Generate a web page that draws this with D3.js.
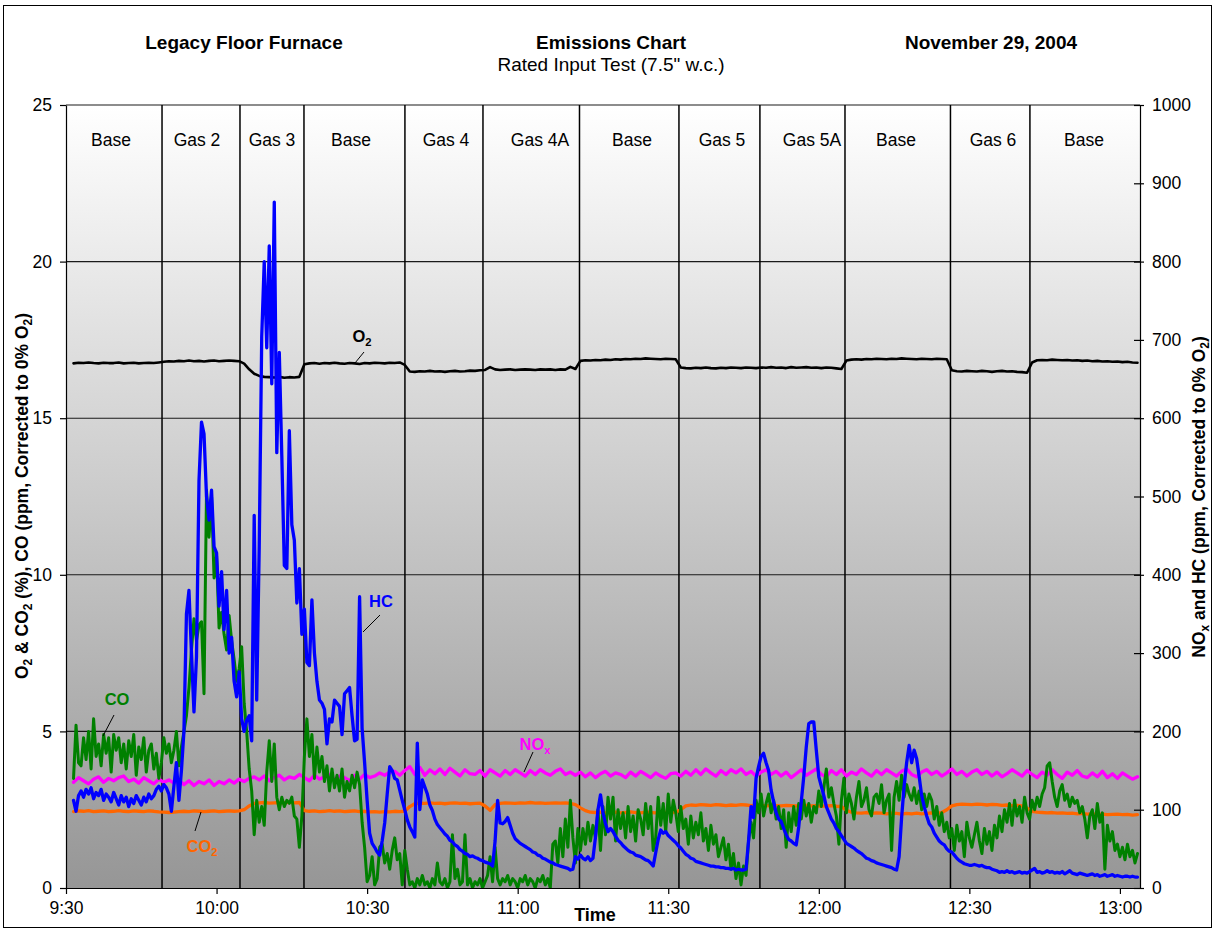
<!DOCTYPE html>
<html>
<head>
<meta charset="utf-8">
<script src="https://cdn.jsdelivr.net/npm/d3@7"></script>
<style>
  body { margin: 0; background: #fff; }
  svg text { font-family: "Liberation Sans", Arial, Helvetica, sans-serif; }
</style>
</head>
<body>
<svg id="chart" width="1215" height="930"></svg>
<script>
// ---- Test segments (start clock times) and their names ----
const segmentNames = ["Base", "Gas 2", "Gas 3", "Base", "Gas 4", "Gas 4A", "Base",
                      "Gas 5", "Gas 5A", "Base", "Gas 6", "Base"];
const segmentBounds = ["9:30:00", "9:49:08", "10:04:40", "10:17:25", "10:37:32", "10:53:05",
                       "11:12:19", "11:32:08", "11:48:16", "12:05:13", "12:26:14", "12:42:04", "13:04:00"];

// ---- Axis ticks ----
const timeTicks = ["9:30", "10:00", "10:30", "11:00", "11:30", "12:00", "12:30", "13:00"];
const leftTicks = [0, 5, 10, 15, 20, 25];
const rightTicks = [0, 100, 200, 300, 400, 500, 600, 700, 800, 900, 1000];

// ---- Sampling ----
const fastStart = "9:31:30";   // HC and CO logged every 30 s
const fastStepSec = 30;
const slowStart = "9:31:30";   // O2, CO2, NOx logged every 60 s
const slowStepSec = 60;

// HC, ppm corrected to 0% O2 (right axis)
const hcPpm = [
  112,98,118,124,116,126,120,128,114,122,118,126,112,120,116,110,122,114,106,118,
  110,116,104,114,108,118,112,106,116,110,120,114,118,126,130,124,132,128,120,98,
  130,160,112,150,200,350,380,300,225,295,520,595,580,500,470,508,436,428,360,404,
  330,380,300,320,264,244,276,216,200,214,220,188,476,240,436,704,800,690,820,644,
  876,556,684,552,412,408,584,464,444,364,408,324,356,288,284,368,300,264,240,236,
  228,184,216,212,240,236,232,196,248,252,256,220,188,190,372,204,160,112,70,57,
  52,46,42,60,83,120,155,150,140,138,125,112,100,87,78,72,65,185,100,138,
  129,120,106,99,88,81,77,73,69,66,61,59,55,53,49,47,44,43,40,41,
  39,38,36,35,33,32,31,28,60,112,83,82,85,90,80,70,63,60,57,55,
  53,51,49,46,45,42,41,38,37,35,33,32,30,29,28,27,26,25,23,24,
  40,37,42,38,36,40,35,38,65,100,119,96,82,72,76,72,66,61,58,54,
  51,48,46,45,42,41,40,38,36,35,32,28,45,62,74,70,72,67,64,61,
  58,54,51,47,43,41,38,37,34,33,32,31,30,29,28,28,27,27,26,26,
  25,25,24,25,23,24,23,23,24,60,104,90,140,155,168,172,160,150,125,110,
  96,88,85,76,68,62,60,57,55,78,110,142,180,210,212,212,176,142,130,118,
  104,96,88,83,76,72,67,62,57,55,53,51,48,46,44,41,38,37,35,34,
  32,31,30,29,28,27,26,24,23,40,90,130,160,182,160,176,165,142,118,104,
  92,82,78,70,65,60,57,55,50,47,46,42,38,35,33,31,30,29,29,30,
  29,28,29,27,26,26,24,23,22,20,21,20,22,20,21,19,20,21,19,20,
  19,21,23,25,20,21,19,20,22,20,21,19,20,19,21,18,20,22,19,18,
  17,19,18,17,16,17,18,16,17,15,16,17,15,16,17,15,16,15,14,15,
  15,14,15,14,14
];

// CO, ppm corrected to 0% O2 (left axis)
const coPpm = [
  3.5,5.2,4.0,3.9,4.8,4.1,5.0,3.8,5.4,4.2,4.6,3.9,4.9,4.3,4.8,3.7,4.9,4.4,4.8,4.0,
  4.6,3.8,4.7,4.2,4.9,3.6,4.5,4.1,4.8,3.7,4.4,4.6,3.8,4.3,3.5,4.0,4.8,4.3,4.6,4.0,
  4.4,5.0,3.9,4.5,5.0,5.5,6.4,7.6,8.6,7.9,8.4,8.5,6.2,12.7,11.2,12.5,9.9,10.6,8.3,8.8,
  8.1,7.6,8.7,7.9,7.3,6.6,7.0,7.7,5.9,5.0,3.8,3.1,1.7,2.8,2.1,2.6,2.0,3.7,4.7,3.4,
  4.6,2.9,2.5,2.9,2.6,2.8,2.7,2.9,2.3,2.2,1.3,2.3,4.2,5.4,4.2,4.9,3.5,4.5,3.7,4.2,
  3.4,3.9,3.1,3.8,3.2,3.6,3.1,3.8,2.9,3.4,3.1,3.6,3.2,3.7,3.3,2.1,1.3,0.2,0.4,1.0,
  0.1,0.3,1.3,1.4,0.8,1.1,0.6,1.2,1.6,0.9,1.1,0.1,1.2,0.6,0.1,0.2,0.0,0.3,0.1,0.4,
  0.1,0.2,0.0,0.3,0.1,0.8,0.2,0.1,0.3,0.0,0.2,1.7,0.3,0.6,0.1,0.2,1.7,0.1,0.3,0.0,
  0.2,0.1,0.3,0.0,0.2,0.4,1.0,0.2,1.3,0.3,0.1,0.3,0.2,0.4,0.1,0.3,0.2,0.0,0.3,0.2,
  0.4,0.1,0.3,0.2,0.0,0.3,0.2,0.4,0.1,0.3,0.0,1.4,1.5,0.8,1.9,1.0,2.2,1.3,2.8,1.6,
  0.8,1.9,1.2,1.9,1.4,2.1,1.5,2.0,1.6,2.5,1.2,2.6,1.7,2.9,2.2,2.9,1.5,2.5,1.9,2.4,
  1.6,2.6,1.8,2.3,1.5,2.5,2.2,1.7,2.7,1.9,2.6,1.2,1.6,2.9,2.0,2.7,1.8,3.0,2.1,2.8,
  2.4,1.8,2.6,1.9,2.2,1.4,2.3,1.6,2.1,1.7,2.4,1.5,1.9,1.2,2.0,1.4,1.7,1.0,1.3,1.6,
  0.9,1.4,0.6,1.1,0.3,0.8,0.1,0.7,0.4,1.5,2.1,1.6,2.8,2.4,3.0,2.3,2.7,3.0,2.4,2.8,
  2.2,2.6,1.9,2.5,1.3,2.4,1.8,2.6,2.0,2.7,2.2,2.8,2.3,2.7,2.1,2.6,2.4,3.1,2.6,3.2,
  3.8,2.9,3.2,2.7,2.3,1.4,2.8,3.5,2.4,3.0,2.7,2.2,2.9,3.4,2.6,2.8,3.2,2.5,2.3,2.9,
  3.0,2.7,3.3,2.4,2.8,3.0,1.2,2.9,3.4,2.8,3.6,2.9,3.3,3.0,2.8,3.2,2.7,3.1,2.5,3.0,
  2.6,3.0,2.8,2.2,2.6,2.0,2.4,1.8,2.1,1.6,1.9,1.2,2.0,1.5,1.8,1.0,2.1,1.6,1.3,1.7,
  2.1,1.5,1.1,1.9,1.4,1.8,1.2,2.0,1.6,2.3,1.8,2.5,2.1,2.7,2.0,2.8,2.3,2.6,2.1,2.9,
  2.4,2.2,2.8,2.5,2.9,2.6,3.0,3.2,3.9,4.0,3.4,2.9,2.6,3.1,3.3,2.8,3.0,2.6,2.9,2.7,
  2.8,2.4,2.6,2.2,1.6,2.3,2.5,1.9,2.7,2.1,2.4,0.6,2.0,1.5,1.8,1.2,1.4,1.0,1.3,0.9,
  1.4,1.0,1.2,0.8,1.1
];

// O2, % (left axis)
const o2Pct = [
  16.75,16.77,16.76,16.78,16.76,16.75,16.77,16.76,16.76,16.78,16.75,16.76,16.77,16.75,16.76,16.77,16.76,16.78,
  16.80,16.82,16.81,16.83,16.82,16.84,16.82,16.83,16.81,16.83,16.84,16.82,16.83,16.84,16.83,
  16.82,16.74,16.56,16.42,16.35,16.32,
  16.31,16.30,16.32,16.29,16.31,16.30,16.32,
  16.72,16.75,16.76,16.74,16.76,16.75,16.77,16.75,16.74,16.76,16.75,16.73,16.76,16.75,16.77,16.76,16.75,16.77,16.76,16.78,
  16.70,
  16.49,16.48,16.50,16.49,16.51,16.49,16.50,16.48,16.50,16.51,16.49,16.50,16.52,16.51,16.53,
  16.54,16.63,16.56,16.54,16.55,16.56,16.54,16.55,16.56,16.55,16.54,16.56,16.55,16.56,16.54,16.56,16.55,16.64,16.57,
  16.83,16.85,16.84,16.86,16.85,16.87,16.86,16.88,16.87,16.89,16.88,16.90,16.89,16.91,16.90,16.89,16.88,16.90,16.89,16.88,
  16.62,16.60,16.59,16.61,16.60,16.62,16.60,16.59,16.61,16.60,16.62,16.61,16.60,16.62,16.61,16.60,16.62,
  16.61,16.63,16.61,16.62,16.60,16.63,16.61,16.62,16.63,16.61,16.62,16.60,16.62,16.61,16.59,16.57,
  16.84,16.87,16.88,16.87,16.89,16.88,16.90,16.89,16.88,16.90,16.89,16.91,16.90,16.89,16.88,16.90,16.89,16.88,16.90,16.89,16.88,
  16.53,16.50,16.49,16.51,16.50,16.49,16.51,16.50,16.48,16.50,16.51,16.49,16.50,16.48,16.47,16.45,
  16.78,16.85,16.86,16.85,16.87,16.86,16.85,16.86,16.84,16.85,16.83,16.84,16.82,16.83,16.81,16.82,16.80,16.81,16.79,16.80,16.78,16.77
];

// CO2, % (left axis)
const co2Pct = [
  2.44,2.46,2.45,2.47,2.44,2.45,2.46,2.44,2.45,2.47,2.45,2.44,2.46,2.45,2.44,2.46,2.45,2.43,2.42,2.41,
  2.42,2.44,2.45,2.44,2.46,2.45,2.44,2.45,2.46,2.44,2.45,2.46,2.45,2.46,
  2.50,2.62,2.70,2.72,2.73,2.71,2.72,2.73,2.72,2.74,2.72,2.73,
  2.47,2.45,2.46,2.44,2.45,2.47,2.45,2.46,2.44,2.45,2.46,2.44,2.45,2.43,2.44,2.42,2.44,2.43,2.45,2.44,2.45,
  2.60,2.69,2.71,2.70,2.72,2.70,2.71,2.69,2.71,2.72,2.70,2.71,2.69,2.70,2.71,
  2.62,2.48,2.66,2.70,2.72,2.71,2.70,2.72,2.71,2.73,2.71,2.72,2.70,2.71,2.72,2.71,2.72,2.70,2.66,
  2.56,2.47,2.42,2.41,2.42,2.40,2.41,2.42,2.40,2.41,2.43,2.41,2.40,2.42,2.41,2.40,2.42,2.41,2.40,2.42,
  2.50,2.62,2.65,2.64,2.66,2.65,2.64,2.66,2.65,2.63,2.65,2.64,2.66,2.65,2.63,2.64,2.63,
  2.62,2.64,2.63,2.62,2.64,2.63,2.62,2.63,2.64,2.62,2.63,2.61,2.62,2.63,2.61,2.60,
  2.48,2.42,2.40,2.39,2.41,2.38,2.40,2.39,2.37,2.39,2.38,2.36,2.38,2.37,2.39,2.37,2.38,2.40,2.39,2.41,2.50,
  2.62,2.66,2.68,2.67,2.66,2.68,2.67,2.65,2.67,2.66,2.64,2.65,2.63,2.64,2.62,2.55,
  2.45,2.42,2.41,2.40,2.41,2.39,2.40,2.38,2.39,2.37,2.38,2.36,2.37,2.35,2.36,2.34,2.35,2.36,2.34,2.35,2.33,2.34
];

// NOx, ppm corrected to 0% O2 (right axis)
const noxPpm = [
  135,141,137,133,139,142,135,140,137,141,143,136,139,134,141,137,133,139,135,138,
  134,138,132,137,131,136,133,138,131,136,133,138,134,139,136,140,142,138,143,137,
  141,144,138,142,140,145,141,137,144,139,142,145,139,143,141,137,144,139,145,141,
  143,147,144,148,149,144,150,155,145,154,144,151,146,152,145,153,148,143,151,146,
  145,150,143,151,147,143,150,145,151,147,143,150,145,151,147,144,149,152,145,148,
  144,148,142,147,141,146,149,143,147,145,141,148,143,149,145,141,147,143,140,146,
  147,143,149,144,151,145,152,147,143,150,145,151,147,152,145,149,143,148,151,145,
  149,143,148,141,146,151,144,148,152,145,142,150,145,151,143,148,145,152,147,143,
  150,145,151,147,143,149,152,145,142,148,151,145,149,143,147,152,145,149,143,148,
  151,145,149,143,148,142,146,151,147,143,150,145,141,148,144,151,145,140,148,144,
  150,143,141,147,142,149,141,146,140,147,143,139,142
];

// ---- Series labels with leader lines (pixel layout) ----
const seriesLabels = [
  { parts: [["O"], ["2", true]], color: "#000000", cx: 362, baseline: 342, leader: [[364, 352], [355, 363]] },
  { parts: [["HC"]], color: "#0000ff", cx: 381, baseline: 607, leader: [[380, 615], [363, 632]] },
  { parts: [["CO"]], color: "#008000", cx: 117, baseline: 705, leader: [[114, 715], [103, 736]] },
  { parts: [["CO"], ["2", true]], color: "#ff6600", cx: 202, baseline: 852, leader: [[201, 812], [195, 831]] },
  { parts: [["NO"], ["x", true]], color: "#ff00ff", cx: 535, baseline: 750, leader: [[533, 752], [524, 772]] }
];
// x positions of the segment name boxes
const segmentLabelX = [111, 197, 272, 351, 446, 540, 632, 722, 812, 896, 993, 1084];

// ---------------------------------------------------------------
const parseClock = d3.timeParse("%H:%M:%S");
const clock = s => parseClock(s.split(":").length === 2 ? s + ":00" : s);
const seriesTimes = (start, step, n) => d3.range(n).map(i => d3.timeSecond.offset(clock(start), i * step));

const W = 1215, H = 930;
const plot = { left: 66, right: 1140, top: 105, bottom: 888 };
const FONT = "'Liberation Sans', Arial, Helvetica, sans-serif";

const x = d3.scaleTime()
  .domain([clock(segmentBounds[0]), clock(segmentBounds[segmentBounds.length - 1])])
  .range([plot.left, plot.right]);
const yL = d3.scaleLinear().domain([0, 25]).range([plot.bottom, plot.top]);
const yR = d3.scaleLinear().domain([0, 1000]).range([plot.bottom, plot.top]);

const svg = d3.select("#chart");

// outer frame
svg.append("rect").attr("x", 3.5).attr("y", 5.5).attr("width", W - 7).attr("height", H - 8)
  .attr("fill", "#fff").attr("stroke", "#000").attr("stroke-width", 1);

// plot background: vertical gradient
const defs = svg.append("defs");
const grad = defs.append("linearGradient").attr("id", "bg").attr("x1", 0).attr("y1", 0).attr("x2", 0).attr("y2", 1);
grad.append("stop").attr("offset", "0%").attr("stop-color", "#ffffff");
grad.append("stop").attr("offset", "100%").attr("stop-color", "#969696");
defs.append("clipPath").attr("id", "plotClip").append("rect")
  .attr("x", plot.left).attr("y", plot.top - 2)
  .attr("width", plot.right - plot.left).attr("height", plot.bottom - plot.top + 2);

svg.append("rect").attr("x", plot.left).attr("y", plot.top)
  .attr("width", plot.right - plot.left).attr("height", plot.bottom - plot.top)
  .attr("fill", "url(#bg)");

// horizontal gridlines
svg.append("g").selectAll("line").data(leftTicks.filter(v => v > 0)).join("line")
  .attr("x1", plot.left).attr("x2", plot.right)
  .attr("y1", d => yL(d)).attr("y2", d => yL(d))
  .attr("stroke", "#1a1a1a").attr("stroke-width", 1.1);

// segment dividers and names
const bounds = segmentBounds.map(clock);
svg.append("g").selectAll("line").data(bounds.slice(1, -1)).join("line")
  .attr("x1", d => x(d)).attr("x2", d => x(d))
  .attr("y1", plot.top).attr("y2", plot.bottom)
  .attr("stroke", "#000").attr("stroke-width", 1.5);
svg.append("g").selectAll("text").data(segmentNames).join("text")
  .attr("x", (d, i) => segmentLabelX[i])
  .attr("y", 146)
  .attr("text-anchor", "middle")
  .attr("font-size", 17.5)
  .attr("fill", "#000")
  .text(d => d);

// ---- series ----
const fastT = seriesTimes(fastStart, fastStepSec, hcPpm.length);
const slowT = seriesTimes(slowStart, slowStepSec, o2Pct.length);

const series = [
  { vals: o2Pct, t: slowT, y: yL, color: "#000000", w: 2.6 },
  { vals: noxPpm, t: slowT, y: yR, color: "#ff00ff", w: 3.3 },
  { vals: co2Pct, t: slowT, y: yL, color: "#ff6600", w: 3.3 },
  { vals: coPpm, t: fastT, y: yL, color: "#008000", w: 3.0 },
  { vals: hcPpm, t: fastT, y: yR, color: "#0000ff", w: 3.3 }
];
const gSeries = svg.append("g").attr("clip-path", "url(#plotClip)");
series.forEach(s => {
  const line = d3.line().x((d, i) => x(s.t[i])).y(d => s.y(d));
  gSeries.append("path").datum(s.vals)
    .attr("d", line)
    .attr("fill", "none")
    .attr("stroke", s.color)
    .attr("stroke-width", s.w)
    .attr("stroke-linejoin", "round")
    .attr("stroke-linecap", "round");
});

// ---- axes ----
function styleAxis(g) {
  g.attr("font-family", FONT).attr("font-size", 17.5);
  g.selectAll("path.domain").attr("stroke", "#000").attr("stroke-width", 1.2);
  g.selectAll(".tick line").attr("stroke", "#000").attr("stroke-width", 1.2);
  g.selectAll(".tick text").attr("fill", "#000");
}

const bottomAxis = d3.axisBottom(x)
  .tickValues(timeTicks.map(clock))
  .tickFormat((d, i) => timeTicks[i])
  .tickSize(6).tickSizeOuter(0).tickPadding(8);
svg.append("g").attr("transform", `translate(0,${plot.bottom})`).call(bottomAxis).call(styleAxis);

const leftAxis = d3.axisLeft(yL).tickValues(leftTicks).tickFormat(d3.format("d"))
  .tickSize(6).tickSizeOuter(0).tickPadding(8);
svg.append("g").attr("transform", `translate(${plot.left},0)`).call(leftAxis).call(styleAxis);

const rightAxis = d3.axisRight(yR).tickValues(rightTicks).tickFormat(d3.format("d"))
  .tickSize(4).tickSizeOuter(0).tickPadding(8);
const gR = svg.append("g").attr("transform", `translate(${plot.right},0)`).call(rightAxis).call(styleAxis);
gR.selectAll(".tick line").attr("x1", -6);

// ---- text helpers ----
function richText(sel, parts, size) {
  let shifted = false;
  parts.forEach(([s, sub]) => {
    const ts = sel.append("tspan").text(s);
    if (sub) {
      ts.attr("font-size", size * 0.68).attr("dy", shifted ? 0 : size * 0.22);
      shifted = true;
    } else {
      ts.attr("font-size", size).attr("dy", shifted ? -size * 0.22 : 0);
      shifted = false;
    }
  });
  return sel;
}

// titles
svg.append("text").attr("x", 244).attr("y", 49).attr("text-anchor", "middle")
  .attr("font-size", 19).attr("font-weight", "bold").text("Legacy Floor Furnace");
svg.append("text").attr("x", 611).attr("y", 49).attr("text-anchor", "middle")
  .attr("font-size", 19).attr("font-weight", "bold").text("Emissions Chart");
svg.append("text").attr("x", 611).attr("y", 71).attr("text-anchor", "middle")
  .attr("font-size", 19).text("Rated Input Test (7.5\" w.c.)");
svg.append("text").attr("x", 991).attr("y", 49).attr("text-anchor", "middle")
  .attr("font-size", 19).attr("font-weight", "bold").text("November 29, 2004");

// axis titles
svg.append("text").attr("x", 595).attr("y", 921).attr("text-anchor", "middle")
  .attr("font-size", 18).attr("font-weight", "bold").text("Time");

const leftTitle = svg.append("text")
  .attr("transform", "translate(28,496) rotate(-90)")
  .attr("text-anchor", "middle").attr("font-weight", "bold");
richText(leftTitle, [["O"], ["2", true], [" & CO"], ["2", true], [" (%), CO (ppm, Corrected to 0% O"], ["2", true], [")"]], 17.5);

const rightTitle = svg.append("text")
  .attr("transform", "translate(1205,497) rotate(-90)")
  .attr("text-anchor", "middle").attr("font-weight", "bold");
richText(rightTitle, [["NO"], ["x", true], [" and HC (ppm, Corrected to 0% O"], ["2", true], [")"]], 17.5);

// series labels with leader lines
seriesLabels.forEach(l => {
  svg.append("line")
    .attr("x1", l.leader[0][0]).attr("y1", l.leader[0][1])
    .attr("x2", l.leader[1][0]).attr("y2", l.leader[1][1])
    .attr("stroke", "#000").attr("stroke-width", 1);
  const t = svg.append("text").attr("x", l.cx).attr("y", l.baseline)
    .attr("text-anchor", "middle").attr("font-weight", "bold").attr("fill", l.color);
  richText(t, l.parts, 16.5);
});
</script>
</body>
</html>
